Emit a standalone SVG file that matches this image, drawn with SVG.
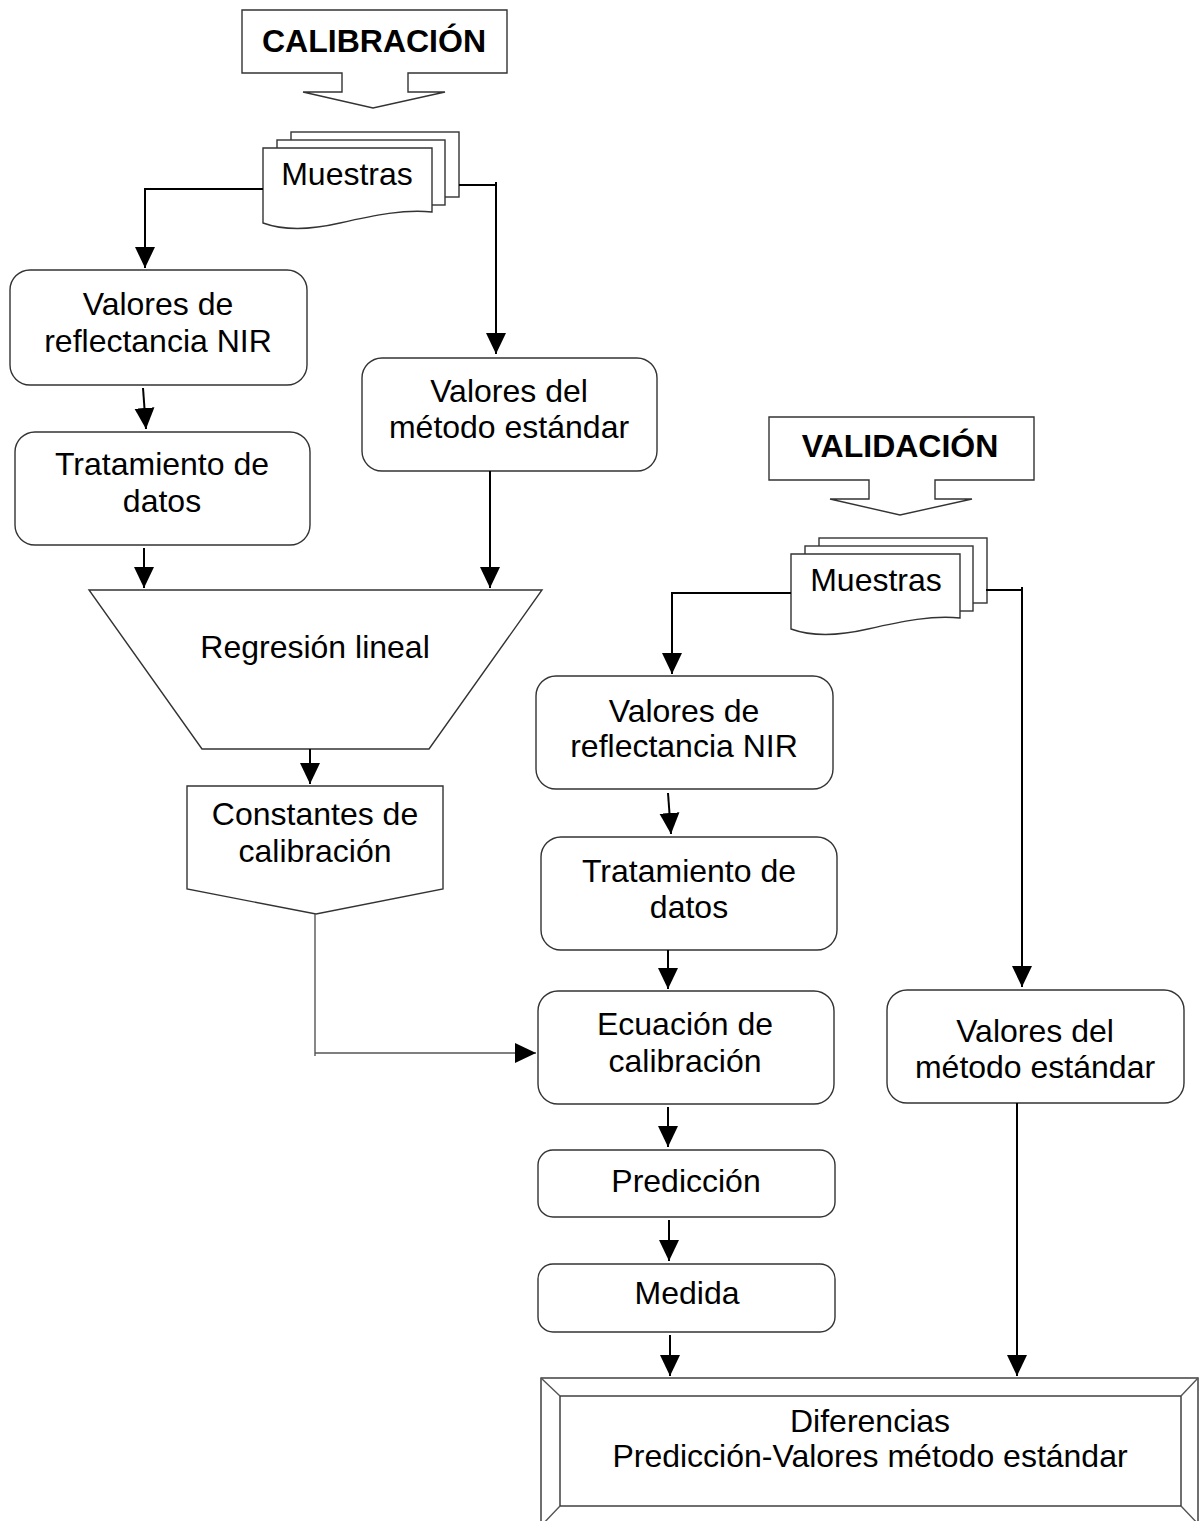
<svg xmlns="http://www.w3.org/2000/svg" width="1201" height="1521" viewBox="0 0 1201 1521">
<style>
.shape{fill:#fff;stroke:#333;stroke-width:1.4}
.t{font-family:"Liberation Sans",Arial,sans-serif;font-size:32px;fill:#000;text-anchor:middle}
.b{font-weight:bold}
.c{fill:none;stroke:#000;stroke-width:2}
.thin{fill:none;stroke:#555;stroke-width:1.4}
</style>
<defs>
<marker id="arr" markerUnits="userSpaceOnUse" markerWidth="21" markerHeight="21" viewBox="0 0 21 20" refX="21" refY="10" orient="auto">
<path d="M0,0 L21,10 L0,20 Z" fill="#000"/>
</marker>
<g id="offpage">
<path class="shape" d="M242,10 H507 V73 H408 V92 H445 L373,108 L303,92 H342 V73 H242 Z"/>
</g>
<g id="docs">
<rect class="shape" x="291" y="132" width="168" height="65"/>
<rect class="shape" x="277" y="140" width="168" height="65"/>
<path class="shape" d="M263,148 H432 V212 C405,209 375,215 340,223 C310,230 285,231 263,223 Z"/>
</g>
</defs>

<g id="calibracion">
<use href="#offpage"/>
<text class="t b" x="374" y="52">CALIBRACIÓN</text>
</g>
<g id="muestras-cal">
<use href="#docs"/>
<text class="t" x="347" y="185">Muestras</text>
</g>
<g id="nir-cal">
<rect class="shape" x="10" y="270" width="297" height="115" rx="20"/>
<text class="t" x="158" y="315">Valores de</text>
<text class="t" x="158" y="352">reflectancia NIR</text>
</g>
<g id="trat-cal">
<rect class="shape" x="15" y="432" width="295" height="113" rx="20"/>
<text class="t" x="162" y="475">Tratamiento de</text>
<text class="t" x="162" y="512">datos</text>
</g>
<g id="metodo-cal">
<rect class="shape" x="362" y="358" width="295" height="113" rx="20"/>
<text class="t" x="509" y="402">Valores del</text>
<text class="t" x="509" y="438">método estándar</text>
</g>
<g id="regresion">
<path class="shape" d="M89,590 H542 L429,749 H202 Z"/>
<text class="t" x="315" y="658">Regresión lineal</text>
</g>
<g id="constantes">
<path class="shape" d="M187,786 H443 V889 L316,914 L187,889 Z"/>
<text class="t" x="315" y="825">Constantes de</text>
<text class="t" x="315" y="862">calibración</text>
</g>

<g id="validacion">
<use href="#offpage" transform="translate(527,407)"/>
<text class="t b" x="900" y="457">VALIDACIÓN</text>
</g>
<g id="muestras-val">
<use href="#docs" transform="translate(528,406)"/>
<text class="t" x="876" y="591">Muestras</text>
</g>
<g id="nir-val">
<rect class="shape" x="536" y="676" width="297" height="113" rx="20"/>
<text class="t" x="684" y="722">Valores de</text>
<text class="t" x="684" y="757">reflectancia NIR</text>
</g>
<g id="trat-val">
<rect class="shape" x="541" y="837" width="296" height="113" rx="20"/>
<text class="t" x="689" y="882">Tratamiento de</text>
<text class="t" x="689" y="918">datos</text>
</g>
<g id="ecuacion">
<rect class="shape" x="538" y="991" width="296" height="113" rx="20"/>
<text class="t" x="685" y="1035">Ecuación de</text>
<text class="t" x="685" y="1072">calibración</text>
</g>
<g id="prediccion">
<rect class="shape" x="538" y="1150" width="297" height="67" rx="15"/>
<text class="t" x="686" y="1192">Predicción</text>
</g>
<g id="medida">
<rect class="shape" x="538" y="1264" width="297" height="68" rx="15"/>
<text class="t" x="687" y="1304">Medida</text>
</g>
<g id="metodo-val">
<rect class="shape" x="887" y="990" width="297" height="113" rx="20"/>
<text class="t" x="1035" y="1042">Valores del</text>
<text class="t" x="1035" y="1078">método estándar</text>
</g>
<g id="diferencias">
<rect class="shape" x="541" y="1378" width="657" height="148"/>
<rect class="shape" x="560" y="1396" width="621" height="110"/>
<path class="thin" d="M541,1378 L560,1396 M1198,1378 L1181,1396 M560,1506 L541,1526 M1181,1506 L1200,1526"/>
<text class="t" x="870" y="1432">Diferencias</text>
<text class="t" x="870" y="1467">Predicción-Valores método estándar</text>
</g>

<g id="connectors">
<path class="c" d="M263,189 H145 V268" marker-end="url(#arr)"/>
<path class="c" d="M459,185 H496"/>
<path class="c" d="M496,182 V354" marker-end="url(#arr)"/>
<path class="c" d="M143,388 L146,429" marker-end="url(#arr)"/>
<path class="c" d="M144,548 V588" marker-end="url(#arr)"/>
<path class="c" d="M490,471 V588" marker-end="url(#arr)"/>
<path class="c" d="M310,749 V784" marker-end="url(#arr)"/>
<path class="thin" d="M315,914 V1056"/>
<path class="thin" d="M315,1053 H536" marker-end="url(#arr)"/>
<path class="c" d="M791,593 H672 V674" marker-end="url(#arr)"/>
<path class="c" d="M986,590 H1022"/>
<path class="c" d="M1022,587 V987" marker-end="url(#arr)"/>
<path class="c" d="M668,793 L671,834" marker-end="url(#arr)"/>
<path class="c" d="M668,950 V989" marker-end="url(#arr)"/>
<path class="c" d="M668,1107 V1147" marker-end="url(#arr)"/>
<path class="c" d="M669,1220 V1261" marker-end="url(#arr)"/>
<path class="c" d="M670,1335 V1376" marker-end="url(#arr)"/>
<path class="c" d="M1017,1103 V1376" marker-end="url(#arr)"/>
</g>
</svg>
